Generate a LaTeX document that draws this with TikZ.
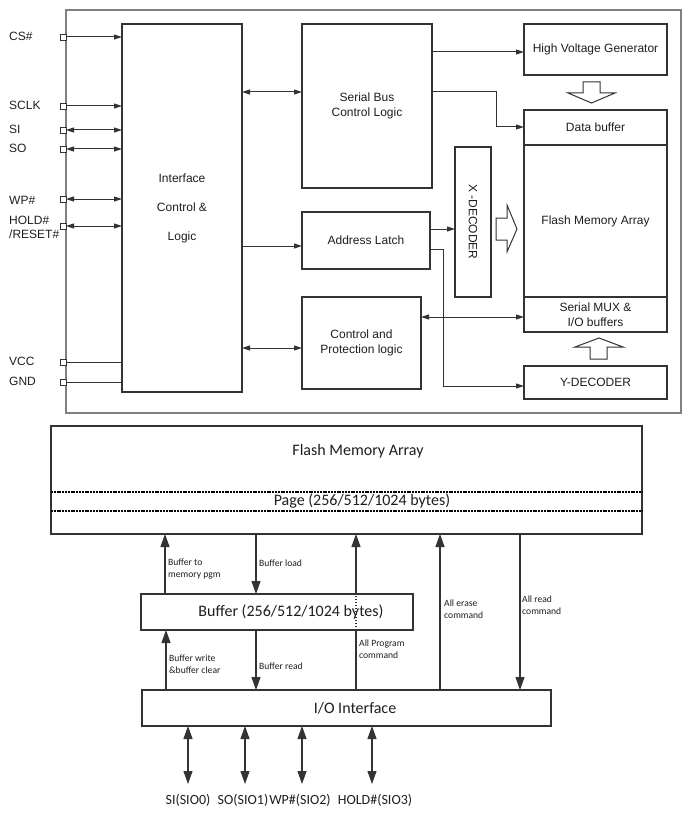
\documentclass[tikz,border=0pt]{standalone}
\usepackage{fontspec}
\setmainfont{Liberation Sans}
\newfontfamily\calfont{Carlito}
\usetikzlibrary{arrows.meta}
\definecolor{lc}{HTML}{333333}
\definecolor{tc}{HTML}{1E1E1E}
\definecolor{fc}{HTML}{808080}
\newcommand\bx[7]{\node[#6,minimum width={#4-#2},minimum height={#5-#3}] (#1) at ({(#2+#4)/2},{(#3+#5)/2}) {#7};}
\begin{document}
\begin{tikzpicture}[x=1pt,y=-1pt,
  box/.style={draw=lc,line width=1.2pt,inner sep=0pt,outer sep=0pt,fill=white,text=tc,align=center,font=\fontsize{12}{15}\selectfont},
  bbox/.style={draw=lc,line width=1.2pt,inner sep=0pt,outer sep=0pt,fill=white},
  pinsq/.style={draw=lc,line width=0.9pt,minimum size=6pt,inner sep=0pt,outer sep=0pt,fill=white},
  lbl/.style={text=tc,font=\fontsize{12}{14}\selectfont,inner sep=0pt,anchor=west,align=left},
  tline/.style={draw=lc,line width=1pt},
  tarr/.style={tline,-{Triangle[length=8pt,width=5pt]}},
  tbi/.style={tline,{Triangle[length=8pt,width=5pt]}-{Triangle[length=8pt,width=5pt]}},
  hollow/.style={draw=lc,line width=1pt,fill=white,line join=miter},
  bline/.style={draw=lc,line width=1.1pt},
  barr/.style={bline,-{Triangle[length=13pt,width=9pt]}},
  bbi/.style={bline,{Triangle[length=13pt,width=9pt]}-{Triangle[length=13pt,width=9pt]}},
  dotl/.style={draw=black,line width=1.6pt,dash pattern=on 2pt off 0.8pt},
  btxt/.style={text=tc,font=\calfont\fontsize{16}{18}\selectfont,inner sep=0pt},
  stxt/.style={text=tc,font=\calfont\fontsize{9.6}{12}\selectfont,inner sep=0pt,anchor=west,align=left},
  ptxt/.style={text=tc,font=\calfont\fontsize{14}{16}\selectfont,inner sep=0pt}
]
\useasboundingbox (0,0) rectangle (692,821);
% ---------- top block diagram ----------
\draw[draw=fc,line width=1.2pt] (66,10) rectangle (681,413);
\bx{iface}{122}{24}{242}{392}{box,font=\fontsize{12}{29}\selectfont}{Interface\\Control \&\\Logic}
\bx{sbcl}{302}{24}{432}{188}{box}{Serial Bus\\Control Logic}
\bx{alatch}{302}{212}{430}{269}{box}{Address Latch}
\bx{cpl}{302}{297}{421}{389}{box}{Control and\\Protection logic}
\bx{hvg}{524}{24}{667}{75}{box}{High Voltage Generator}
\bx{dbuf}{524}{110}{667}{145}{box}{Data buffer}
\bx{fma}{524}{145}{667}{297}{box}{Flash Memory Array}
\bx{mux}{524}{297}{667}{332}{box}{Serial MUX \&\\I/O buffers}
\bx{xdec}{455}{147}{491}{297}{box}{}
\node[text=tc,font=\fontsize{12}{14}\selectfont,rotate=-90] (xdect) at (xdec.center) {X -DECODER};
\bx{ydec}{524}{366}{667}{399}{box}{Y-DECODER}
% pins
\node[pinsq] (pcs) at (63,37) {};
\node[pinsq] (psclk) at (63,106) {};
\node[pinsq] (psi) at (63,130) {};
\node[pinsq] (pso) at (63,149) {};
\node[pinsq] (pwp) at (63,199) {};
\node[pinsq] (phold) at (63,226) {};
\node[pinsq] (pvcc) at (63,362) {};
\node[pinsq] (pgnd) at (63,382) {};
\node[lbl] (lcs) at (9,36) {CS\#};
\node[lbl] (lsclk) at (9,105) {SCLK};
\node[lbl] (lsi) at (9,129) {SI};
\node[lbl] (lso) at (9,148) {SO};
\node[lbl] (lwp) at (9,200) {WP\#};
\node[lbl] (lhold) at (9,227) {HOLD\#\\/RESET\#};
\node[lbl] (lvcc) at (9,361) {VCC};
\node[lbl] (lgnd) at (9,381) {GND};
\draw[tarr] (pcs.east) -- (pcs.east -| iface.west);
\draw[tarr] (psclk.east) -- (psclk.east -| iface.west);
\draw[tbi] (psi.east) -- (psi.east -| iface.west);
\draw[tbi] (pso.east) -- (pso.east -| iface.west);
\draw[tbi] (pwp.east) -- (pwp.east -| iface.west);
\draw[tbi] (phold.east) -- (phold.east -| iface.west);
\draw[tline] (pvcc.east) -- (pvcc.east -| iface.west);
\draw[tline] (pgnd.east) -- (pgnd.east -| iface.west);
% internal connectors
\draw[tbi] (iface.east |- 0,92) -- (sbcl.west |- 0,92);
\draw[tarr] (iface.east |- 0,246) -- (alatch.west |- 0,246);
\draw[tbi] (iface.east |- 0,348) -- (cpl.west |- 0,348);
\draw[tarr] (sbcl.east |- 0,52) -- (hvg.west |- 0,52);
\draw[tarr] (sbcl.east |- 0,92) -- (496,92) |- (dbuf.west |- 0,127);
\draw[tarr] (alatch.east |- 0,229) -- (xdec.west |- 0,229);
\draw[tarr] (alatch.east |- 0,249) -- (443,249) |- (ydec.west |- 0,386);
\draw[tbi] (cpl.east |- 0,317) -- (mux.west |- 0,317);
% hollow block arrows
\draw[hollow] (583,82) -- (600,82) -- (600,93) -- (615,93) -- (591.5,103) -- (568,93) -- (583,93) -- cycle;
\draw[hollow] (496,218) -- (507,218) -- (507,205) -- (517,229) -- (507,252) -- (507,240) -- (496,240) -- cycle;
\draw[hollow] (590,359) -- (590,347) -- (575,347) -- (599,338) -- (623,347) -- (607,347) -- (607,359) -- cycle;
% ---------- bottom page/buffer diagram ----------
\bx{bfma}{51}{426}{642}{534}{bbox}{}
\node[btxt] (bfmat) at (358,451) {Flash Memory Array};
\draw[dotl] (bfma.west |- 0,492) -- (bfma.east |- 0,492);
\draw[dotl] (bfma.west |- 0,511) -- (bfma.east |- 0,511);
\node[btxt] (paget) at (362,501) {Page (256/512/1024 bytes)};
\bx{buf}{141}{594}{413}{630}{bbox}{}
\node[btxt] (buft) at (291,612) {Buffer (256/512/1024 bytes)};
\bx{io}{142}{690}{551}{726}{bbox}{}
\node[btxt] (iot) at (355,708) {I/O Interface};
% vertical connectors
\draw[barr] (buf.north -| 165,0) -- (bfma.south -| 165,0);
\draw[barr] (bfma.south -| 256,0) -- (buf.north -| 256,0);
\draw[bline] (io.north -| 356,0) -- (buf.south -| 356,0);
\draw[draw=lc,line width=1.1pt,dash pattern=on 1.5pt off 1.5pt] (buf.south -| 356,0) -- (buf.north -| 356,0);
\draw[barr] (buf.north -| 356,0) -- (bfma.south -| 356,0);
\draw[barr] (io.north -| 440,0) -- (bfma.south -| 440,0);
\draw[barr] (bfma.south -| 520,0) -- (io.north -| 520,0);
\draw[barr] (io.north -| 166,0) -- (buf.south -| 166,0);
\draw[barr] (buf.south -| 256,0) -- (io.north -| 256,0);
% small labels
\node[stxt] (l1) at (168,569) {Buffer to\\memory pgm};
\node[stxt] (l2) at (259,563) {Buffer load};
\node[stxt] (l3) at (359,649) {All Program\\command};
\node[stxt] (l4) at (444,609) {All erase\\command};
\node[stxt] (l5) at (522,605) {All read\\command};
\node[stxt] (l6) at (169,664) {Buffer write\\\&buffer clear};
\node[stxt] (l7) at (259,666) {Buffer read};
% IO pins
\coordinate (e0) at (188,784);
\coordinate (e1) at (245,784);
\coordinate (e2) at (302,784);
\coordinate (e3) at (372,784);
\draw[bbi] (io.south -| e0) -- (e0);
\draw[bbi] (io.south -| e1) -- (e1);
\draw[bbi] (io.south -| e2) -- (e2);
\draw[bbi] (io.south -| e3) -- (e3);
\node[ptxt] (s0) at (188,800) {SI(SIO0)};
\node[ptxt] (s1) at (243,800) {SO(SIO1)};
\node[ptxt] (s2) at (300,800) {WP\#(SIO2)};
\node[ptxt] (s3) at (375,800) {HOLD\#(SIO3)};
\end{tikzpicture}
\end{document}
